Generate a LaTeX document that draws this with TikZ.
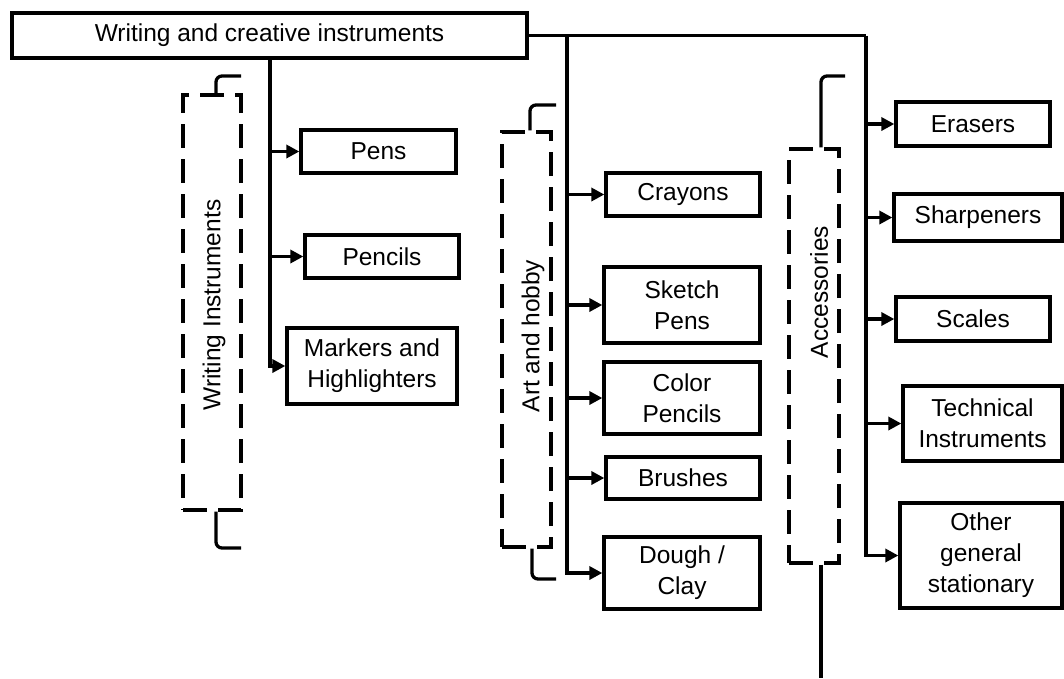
\documentclass[tikz,border=0pt]{standalone}
\usepackage{fontspec}
\setmainfont{Liberation Sans}
\usetikzlibrary{arrows.meta}
\begin{document}
\begin{tikzpicture}[x=1pt,y=-1pt,
  every node/.style={font=\fontsize{24.5}{31}\selectfont, inner sep=0pt, align=center},
  itembox/.style={draw, line width=3.3pt},
  groupbox/.style={draw, line width=3.3pt, dash pattern=on 24pt off 11pt},
  conn/.style={line width=3.3pt},
  arr/.style={conn, -{Triangle[length=13pt,width=13pt]}},
  brk/.style={conn, rounded corners=6pt}]
\useasboundingbox (0,0) rectangle (1064,678);
% main
\node[itembox, minimum width=515, minimum height=45] (main) at (269.5,35.5) {Writing and creative instruments};
% groups
\node[groupbox, minimum width=58, minimum height=415] (wig) at (212,302.5) {};
\node[rotate=90] (wit) at (214,305) {Writing Instruments};
\node[groupbox, minimum width=49, minimum height=415] (ahg) at (526.5,339.5) {};
\node[rotate=90] (aht) at (533,336) {Art and hobby};
\node[groupbox, minimum width=50, minimum height=414] (acg) at (814,356) {};
\node[rotate=90] (act) at (819,292) {Accessories};
% items
\node[itembox, minimum width=155, minimum height=43] (pens) at (378.5,151.5) {Pens};
\node[itembox, minimum width=154, minimum height=43] (pencils) at (382,256.5) {Pencils};
\node[itembox, minimum width=170, minimum height=76] (markers) at (372,366) {Markers and\\Highlighters};
\node[itembox, minimum width=154, minimum height=43] (crayons) at (683,194.5) {Crayons};
\node[itembox, minimum width=156, minimum height=76] (sketch) at (682,305) {Sketch\\Pens};
\node[itembox, minimum width=156, minimum height=72] (color) at (682,398) {Color\\Pencils};
\node[itembox, minimum width=154, minimum height=42] (brushes) at (683,478) {Brushes};
\node[itembox, minimum width=156, minimum height=72] (dough) at (682,573) {Dough /\\Clay};
\node[itembox, minimum width=154, minimum height=44] (erasers) at (973,124) {Erasers};
\node[itembox, minimum width=168, minimum height=47] (sharp) at (978,217.5) {Sharpeners};
\node[itembox, minimum width=154, minimum height=44] (scales) at (973,319) {Scales};
\node[itembox, minimum width=159, minimum height=75] (tech) at (982.5,423.5) {Technical\\Instruments};
\node[itembox, minimum width=162, minimum height=105] (other) at (981,555.5) {Other\\general\\stationary};
% trunk coordinates
\coordinate (wx) at (270,0);
\coordinate (ax) at (567,0);
\coordinate (rx) at (866,0);
% writing branch
\draw[arr] (main.south -| wx) |- (markers.west);
\draw[arr] (pens.west -| wx) -- (pens.west);
\draw[arr] (pencils.west -| wx) -- (pencils.west);
% art branch
\draw[conn] (main.east) -- (main.east -| rx);
\draw[arr] (main.east -| ax) |- (dough.west);
\draw[arr] (crayons.west -| ax) -- (crayons.west);
\draw[arr] (sketch.west -| ax) -- (sketch.west);
\draw[arr] (color.west -| ax) -- (color.west);
\draw[arr] (brushes.west -| ax) -- (brushes.west);
% accessories branch
\draw[arr] (main.east -| rx) |- (other.west);
\draw[arr] (erasers.west -| rx) -- (erasers.west);
\draw[arr] (sharp.west -| rx) -- (sharp.west);
\draw[arr] (scales.west -| rx) -- (scales.west);
\draw[arr] (tech.west -| rx) -- (tech.west);
% brackets
\coordinate (wb1) at (241,76);
\coordinate (wb2) at (241,548);
\draw[brk] (wig.north -| 216,0) -- (216,76) -- (wb1);
\draw[brk] (wig.south -| 216,0) -- (216,548) -- (wb2);
\coordinate (ab1) at (556,105);
\coordinate (ab2) at (556,579);
\draw[brk] (ahg.north -| 530,0) -- (530,105) -- (ab1);
\draw[brk] (ahg.south -| 532,0) -- (532,579) -- (ab2);
\coordinate (cb1) at (845,76);
\coordinate (cb2) at (821,678);
\draw[brk] (acg.north -| 821,0) -- (821,76) -- (cb1);
\draw[conn] (acg.south -| cb2) -- (cb2);
\end{tikzpicture}
\end{document}
